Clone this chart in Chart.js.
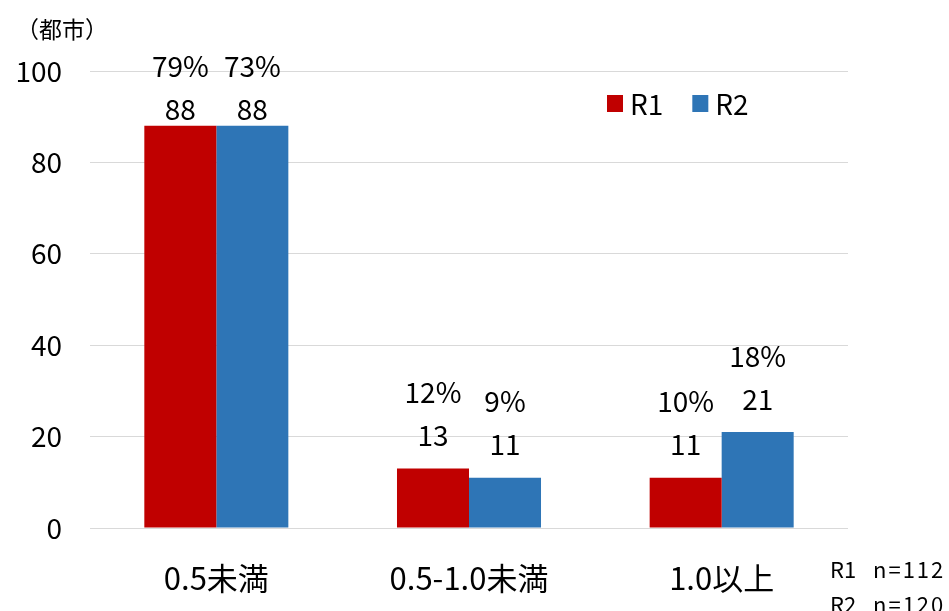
<!DOCTYPE html>
<html>
<head>
<meta charset="utf-8">
<script src="https://cdn.jsdelivr.net/npm/chart.js@4"></script>
<style>
  body { margin: 0; background: #fff; }
</style>
</head>
<body>
<canvas id="myChart" width="949" height="611"></canvas>
<script>
var categories = ["0.5未満", "0.5-1.0未満", "1.0以上"];
var r1Values = [88, 13, 11];
var r2Values = [88, 11, 21];
var r1Percent = [79, 12, 10];
var r2Percent = [73, 9, 18];
var seriesNames = ["R1", "R2"];
var sampleSizes = [112, 120];
var barColors = ["#C00000", "#2E75B6"];

var FONT = "'Noto Sans CJK JP', 'Noto Sans', sans-serif";

// 棒の上に件数と割合を描く
var labelPlugin = {
  id: "barLabels",
  afterDatasetsDraw: function (chart) {
    var ctx = chart.ctx;
    ctx.save();
    ctx.fillStyle = "#000";
    ctx.font = "28px " + FONT;
    ctx.textAlign = "center";
    ctx.textBaseline = "middle";
    chart.data.datasets.forEach(function (ds, i) {
      chart.getDatasetMeta(i).data.forEach(function (bar, j) {
        var pctY = Math.max(bar.y - 76, 66);
        ctx.fillText(ds.data[j], bar.x, pctY + 43);
        ctx.fillText(ds.percent[j] + "%", bar.x, pctY);
      });
    });
    ctx.restore();
  }
};

// 凡例・単位・n数
var extrasPlugin = {
  id: "extras",
  afterDraw: function (chart) {
    var ctx = chart.ctx;
    ctx.save();
    ctx.fillStyle = "#000";
    ctx.textBaseline = "middle";
    ctx.textAlign = "left";

    ctx.font = "23px " + FONT;
    ctx.fillText("（都市）", 16, 29);

    ctx.font = "28px " + FONT;
    var x = 607;
    chart.data.datasets.forEach(function (ds) {
      ctx.fillStyle = ds.backgroundColor;
      ctx.fillRect(x, 95, 16, 17);
      ctx.fillStyle = "#000";
      ctx.fillText(ds.label, x + 23, 104);
      x += 23 + ctx.measureText(ds.label).width + 29;
    });

    ctx.font = "22px " + FONT;
    seriesNames.forEach(function (name, i) {
      var y = 570 + i * 35;
      ctx.letterSpacing = "0px";
      ctx.fillText(name, 830, y);
      ctx.letterSpacing = "2px";
      ctx.fillText("n=" + sampleSizes[i], 873, y);
    });
    ctx.restore();
  }
};

new Chart("myChart", {
  type: "bar",
  data: {
    labels: categories,
    datasets: [
      { label: seriesNames[0], data: r1Values, percent: r1Percent, backgroundColor: barColors[0] },
      { label: seriesNames[1], data: r2Values, percent: r2Percent, backgroundColor: barColors[1] }
    ]
  },
  options: {
    responsive: false,
    animation: false,
    layout: { padding: { top: 71, right: 101, bottom: 0, left: 0 } },
    datasets: {
      bar: { categoryPercentage: 0.57, barPercentage: 1 }
    },
    plugins: {
      legend: { display: false },
      tooltip: { enabled: false }
    },
    scales: {
      x: {
        grid: { display: false },
        border: { display: false },
        ticks: { color: "#000", font: { family: FONT, size: 31 }, padding: 24 },
        afterFit: function (scale) { scale.height = 83; }
      },
      y: {
        min: 0,
        max: 100,
        grid: { color: "#d9d9d9", drawTicks: false },
        border: { display: false },
        ticks: { stepSize: 20, color: "#000", font: { family: FONT, size: 28 }, padding: 28 },
        afterFit: function (scale) { scale.width = 90; }
      }
    }
  },
  plugins: [labelPlugin, extrasPlugin]
});
</script>
</body>
</html>
